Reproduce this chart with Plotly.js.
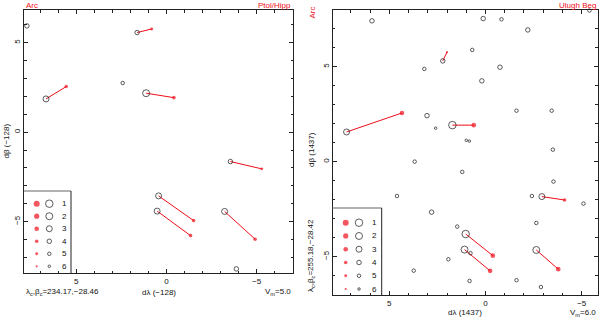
<!DOCTYPE html>
<html><head><meta charset="utf-8">
<script src="https://cdn.plot.ly/plotly-3.0.1.min.js"></script>
<style>html,body{margin:0;padding:0;background:#fff}#chart{width:600px;height:321px}</style>
</head><body><div id="chart"></div>
<script>
// ---------- Left panel (-128, Ptol/Hipp) ----------
const leftPairOpenX   = [1.63, 6.68, 1.13, -3.54, 0.44, 0.52, -3.22];
const leftPairOpenY   = [5.57, 1.86, 2.18, -1.64, -3.56, -4.41, -4.43];
const leftPairOpenMag = [4, 3, 2, 4, 3, 3, 3];
const leftPairRedX    = [0.82, 5.56, -0.41, -5.28, -1.50, -1.33, -4.91];
const leftPairRedY    = [5.77, 2.55, 1.93, -2.05, -4.94, -5.78, -5.98];
const leftPairRedMag  = [5, 4, 4, 5, 4, 4, 4];
const leftSoloX   = [7.74, 2.43, -3.87];
const leftSoloY   = [5.94, 2.75, -7.64];
const leftSoloMag = [4, 5, 4];

// ---------- Right panel (1437, Ulugh Beg) ----------
const rightPairOpenX   = [2.22, 7.22, 1.72, -2.93, 1.03, 1.09, -2.64];
const rightPairOpenY   = [5.30, 1.56, 1.92, -1.84, -3.81, -4.63, -4.65];
const rightPairOpenMag = [4, 3, 1, 3, 1, 2, 2];
const rightPairRedX    = [2.00, 4.34, 0.61, -4.11, -0.38, -0.24, -3.78];
const rightPairRedY    = [5.76, 2.56, 1.92, -2.02, -4.95, -5.75, -5.66];
const rightPairRedMag  = [6, 3, 3, 4, 3, 3, 3];
const rightSoloX   = [5.90, 0.12, -0.83, -5.40, -2.20, 0.69, 3.18, -0.75, 0.19, -1.61, -3.44, 3.04, 2.59, 1.00, 0.84, -3.50, 3.68, 1.21, -3.53, -2.41, -5.09, 4.60, 2.80, -2.64, 1.47, 0.78, 1.93, 3.73, 0.83, -1.61, -2.88];
const rightSoloY   = [7.41, 7.53, 7.49, 7.95, 6.93, 5.88, 4.88, 4.97, 4.25, 2.68, 2.68, 2.42, 1.76, 1.12, 1.08, 0.63, 0.00, -0.54, -1.05, -1.81, -2.21, -1.81, -2.66, -3.23, -3.42, -4.82, -5.14, -5.74, -6.28, -6.24, -6.60];
const rightSoloMag = [4, 4, 5, 5, 4, 5, 5, 4, 4, 5, 5, 4, 6, 6, 6, 5, 5, 5, 5, 5, 5, 5, 4, 5, 5, 5, 5, 5, 5, 5, 5];

// ---------- Legend / ticks ----------
const legendMags = [1, 2, 3, 4, 5, 6];
const tickVals = [-5, 0, 5];

// ---------- texts ----------
const leftTexts  = {cat1: 'Arc', cat2: 'Ptol/Hipp', xt: 'dλ (−128)', yt: 'dβ (−128)', centre: 'λ<sub>c</sub>,β<sub>c</sub>=234.17,−28.46', vm: 'V<sub>m</sub>=5.0'};
const rightTexts = {cat1: 'Arc', cat2: 'Ulugh Beg', xt: 'dλ (1437)', yt: 'dβ (1437)', centre: 'λ<sub>c</sub>,β<sub>c</sub>=255.18,−28.42', vm: 'V<sub>m</sub>=6.0'};

// ---------- styles ----------
const RED = '#ee0e1a';
const FONT = 'Liberation Sans, Arial, Helvetica, sans-serif';
const openSize = m => [7.5, 7, 6, 4.5, 3.5, 2.5][m - 1];
const redSize  = m => [6, 5.2, 4.6, 3.6, 2.9, 2.2][m - 1];
const W = 600, H = 321;
const px = v => v / W, py = v => 1 - v / H;

function panel(xa, ya, pox, poy, pom, prx, pry, prm, sx, sy, sm) {
  const lx = [], ly = [];
  pox.forEach((v, i) => { lx.push(v, prx[i], null); ly.push(poy[i], pry[i], null); });
  return [
    {type: 'scatter', mode: 'lines', x: lx, y: ly, xaxis: xa, yaxis: ya,
     line: {color: RED, width: 1}, hoverinfo: 'skip', cliponaxis: false},
    {type: 'scatter', mode: 'markers', x: pox.concat(sx), y: poy.concat(sy), xaxis: xa, yaxis: ya,
     marker: {symbol: 'circle-open', color: '#1a1a1a', size: pom.concat(sm).map(openSize), line: {width: 1}}, cliponaxis: false},
    {type: 'scatter', mode: 'markers', x: prx, y: pry, xaxis: xa, yaxis: ya,
     marker: {symbol: 'circle', color: RED, size: prm.map(redSize), line: {width: 0}}, cliponaxis: false}
  ];
}

function legendTraces(xa, ya, xr, xc) {
  return [
    {type: 'scatter', mode: 'markers', x: legendMags.map(() => xr), y: legendMags, xaxis: xa, yaxis: ya,
     marker: {symbol: 'circle', color: RED, size: legendMags.map(redSize), line: {width: 0}}},
    {type: 'scatter', mode: 'markers', x: legendMags.map(() => xc), y: legendMags, xaxis: xa, yaxis: ya,
     marker: {symbol: 'circle-open', color: '#1a1a1a', size: legendMags.map(openSize), line: {width: 1}}}
  ];
}
function legendLabels(xa, ya, xl) {
  return legendMags.map(m => ({text: String(m), x: xl, y: m, xref: xa, yref: ya, showarrow: false,
    xanchor: 'center', yanchor: 'middle', font: {family: FONT, size: 8, color: '#111'}}));
}

const data = [].concat(
  panel('x', 'y', leftPairOpenX, leftPairOpenY, leftPairOpenMag, leftPairRedX, leftPairRedY, leftPairRedMag, leftSoloX, leftSoloY, leftSoloMag),
  panel('x2', 'y2', rightPairOpenX, rightPairOpenY, rightPairOpenMag, rightPairRedX, rightPairRedY, rightPairRedMag, rightSoloX, rightSoloY, rightSoloMag),
  legendTraces('x3', 'y3', 12.7, 25.3),
  legendTraces('x4', 'y4', 13, 26.3)
);

function mainAxis(domain, range, anchor, isY) {
  return {
    domain: domain, range: range, anchor: anchor,
    showgrid: false, zeroline: false,
    showline: true, linecolor: '#222', linewidth: 1, mirror: 'ticks',
    ticks: 'inside', ticklen: 4, tickcolor: '#222', tickwidth: 1,
    tickmode: 'array', tickvals: tickVals,
    minor: {dtick: 1, ticks: 'inside', ticklen: 2.5, tickcolor: '#222', tickwidth: 1},
    tickfont: {family: FONT, size: 8, color: '#111'},
    tickangle: isY ? -90 : 0,
    fixedrange: true
  };
}
function hiddenAxis(domain, range, anchor) {
  return {domain: domain, range: range, anchor: anchor, visible: false, showgrid: false, zeroline: false, fixedrange: true};
}

function ann(text, x, y, opts) {
  return Object.assign({text: text, x: px(x), y: py(y), xref: 'paper', yref: 'paper', showarrow: false,
    font: {family: FONT, size: 8, color: '#111'}, xanchor: 'center', yanchor: 'middle'}, opts || {});
}
const redFont = {family: FONT, size: 8, color: RED};

const layout = {
  width: W, height: H, margin: {l: 0, r: 0, t: 0, b: 0},
  paper_bgcolor: '#fff', plot_bgcolor: 'rgba(0,0,0,0)', showlegend: false,
  xaxis:  mainAxis([px(24), px(293)], [7.9, -7.01], 'y', false),
  yaxis:  mainAxis([py(273), py(10)], [-7.87, 6.83], 'x', true),
  xaxis2: mainAxis([px(332.7), px(597.7)], [7.94, -5.83], 'y2', false),
  yaxis2: mainAxis([py(295), py(10)], [-7.02, 7.98], 'x2', true),
  xaxis3: hiddenAxis([px(24), px(71)], [0, 47], 'y3'),
  yaxis3: hiddenAxis([py(273), py(191)], [6.535, -0.014], 'x3'),
  xaxis4: hiddenAxis([px(332.7), px(381.7)], [0, 49], 'y4'),
  yaxis4: hiddenAxis([py(295), py(208)], [6.452, -0.109], 'x4'),
  shapes: [
    {type: 'line', xref: 'paper', yref: 'paper', x0: px(24), x1: px(71), y0: py(191), y1: py(191), line: {color: '#999', width: 1.5}},
    {type: 'line', xref: 'paper', yref: 'paper', x0: px(71), x1: px(71), y0: py(191), y1: py(273), line: {color: '#222', width: 1}},
    {type: 'line', xref: 'paper', yref: 'paper', x0: px(332.7), x1: px(381.7), y0: py(208), y1: py(208), line: {color: '#999', width: 1.5}},
    {type: 'line', xref: 'paper', yref: 'paper', x0: px(381.7), x1: px(381.7), y0: py(208), y1: py(295), line: {color: '#222', width: 1}}
  ],
  annotations: [
    ann(leftTexts.cat1, 24, 5, {xanchor: 'left', font: redFont}),
    ann(leftTexts.cat2, 293, 5, {xanchor: 'right', font: redFont}),
    ann(leftTexts.xt, 158.5, 292),
    ann(leftTexts.centre, 24, 292, {xanchor: 'left'}),
    ann(leftTexts.vm, 293, 292, {xanchor: 'right'}),
    ann(leftTexts.yt, 6, 141.5, {textangle: -90}),
    ann(rightTexts.cat1, 311.5, 13, {textangle: -90, font: redFont}),
    ann(rightTexts.cat2, 598, 5, {xanchor: 'right', font: redFont}),
    ann(rightTexts.xt, 465, 312.5),
    ann(rightTexts.vm, 598, 312.5, {xanchor: 'right'}),
    ann(rightTexts.yt, 311, 150, {textangle: -90}),
    ann(rightTexts.centre, 311, 256, {textangle: -90})
  ].concat(legendLabels('x3', 'y3', 40), legendLabels('x4', 'y4', 41.3))
};

Plotly.newPlot('chart', data, layout, {staticPlot: true, displayModeBar: false});
</script></body></html>
